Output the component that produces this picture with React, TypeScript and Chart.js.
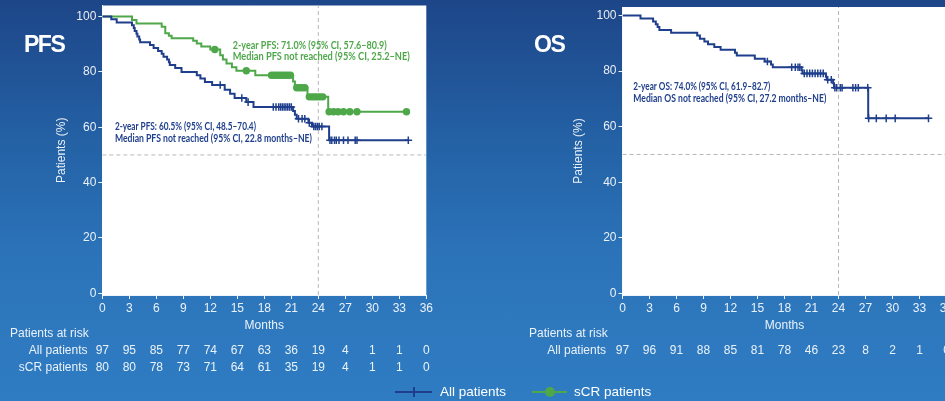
import React, { useEffect, useRef } from "react";
import { Chart, registerables } from "chart.js";

Chart.register(...registerables);

// ---------- data ----------
const monthTicks = [0, 3, 6, 9, 12, 15, 18, 21, 24, 27, 30, 33, 36];
const pctTicks = [0, 20, 40, 60, 80, 100];

// PFS – all patients (event times in months, survival % after each step)
const pfsAllTimes = [0, 1.0, 1.6, 3.3, 3.5, 3.6, 3.8, 3.9, 4.1, 4.2, 5.3, 5.7, 6.2, 6.6, 6.8, 7.2, 7.4, 7.5, 8.1, 8.8, 10.5, 10.9, 11.4, 12.2, 13.6, 14.2, 14.7, 16.0, 16.8, 21.2, 21.4, 21.6, 22.9, 23.3, 25.2, 34.0];
const pfsAllSurv = [100, 99.0, 97.9, 96.9, 95.9, 94.8, 93.8, 92.8, 91.7, 90.7, 89.7, 88.6, 87.6, 86.6, 85.5, 84.5, 83.5, 82.5, 81.4, 80.0, 78.8, 77.6, 76.4, 75.3, 73.6, 72.1, 70.6, 69.1, 67.3, 65.9, 64.5, 63.1, 61.6, 60.3, 55.3, 55.3];
const pfsAllCensored = [13.1, 15.5, 16.2, 19.0, 19.3, 19.6, 19.8, 20.0, 20.2, 20.4, 20.6, 20.8, 21.0, 21.8, 22.2, 22.5, 23.0, 23.5, 23.7, 23.9, 24.1, 24.4, 25.3, 25.5, 25.8, 26.0, 26.3, 26.8, 27.3, 28.1, 28.3, 34.0];

// PFS – sCR patients
const pfsScrTimes = [0, 3.3, 3.8, 6.6, 7.0, 7.4, 7.7, 10.1, 10.5, 11.0, 12.0, 13.1, 13.4, 13.8, 14.4, 14.9, 17.0, 21.2, 21.4, 22.8, 25.1, 33.8];
const pfsScrSurv = [100, 98.8, 97.5, 96.3, 94.0, 93.1, 92.2, 91.3, 90.3, 89.2, 88.1, 86.0, 84.5, 83.0, 81.7, 80.4, 78.8, 76.5, 74.3, 71.0, 65.6, 65.6];
const pfsScrCensored = [12.5, 16.0, 18.8, 19.1, 19.4, 19.7, 20.0, 20.3, 20.6, 20.9, 21.6, 21.9, 22.2, 22.5, 23.0, 23.3, 23.6, 23.9, 24.2, 24.5, 25.2, 25.7, 26.2, 26.8, 27.5, 28.3, 33.8];

// OS – all patients
const osAllTimes = [0, 2.0, 3.4, 3.7, 3.9, 4.1, 5.4, 8.3, 8.6, 9.1, 9.5, 10.2, 10.9, 12.5, 12.7, 14.7, 15.8, 16.5, 16.7, 19.9, 20.0, 22.6, 22.7, 23.4, 23.5, 27.3, 34.0];
const osAllSurv = [100, 99.0, 97.9, 96.9, 95.9, 94.8, 93.8, 92.8, 91.7, 90.7, 89.7, 88.7, 87.7, 86.6, 85.6, 84.5, 83.5, 82.4, 81.4, 80.3, 79.2, 78.0, 76.9, 75.6, 74.0, 63.0, 63.0];
const osAllCensored = [16.1, 18.8, 19.2, 19.5, 19.7, 20.2, 20.5, 20.8, 21.1, 21.4, 21.7, 22.0, 22.3, 22.8, 23.2, 23.6, 23.8, 24.2, 24.4, 25.6, 25.9, 26.2, 27.25, 27.35, 28.2, 29.3, 30.3, 34.0];

// Patients at risk
const riskPfsAll = [97, 95, 85, 77, 74, 67, 63, 36, 19, 4, 1, 1, 0];
const riskPfsScr = [80, 80, 78, 73, 71, 64, 61, 35, 19, 4, 1, 1, 0];
const riskOsAll = [97, 96, 91, 88, 85, 81, 78, 46, 23, 8, 2, 1, 0];

// Reference lines
const refSurv = 50;
const refMonth = 24;

// ---------- styles ----------
const FONT = 'Arial, "Liberation Sans", sans-serif';
const NOTE_FONT = 'Lato, "Open Sans", sans-serif';
const NAVY = "#1f3f8c";
const GREEN = "#4ea84a";
const TXT = "rgba(255,255,255,0.9)";
const AXIS = "rgba(255,255,255,0.92)";
const DASH = "#b8b8b8";

function stepAt(times: number[], surv: number[], t: number) {
  let v = surv[0];
  for (let i = 0; i < times.length; i++) if (times[i] <= t) v = surv[i];
  return v;
}
const curve = (times: number[], surv: number[]) => times.map((t, i) => ({ x: t, y: surv[i] }));
const marks = (times: number[], surv: number[], cens: number[]) => cens.map((t) => ({ x: t, y: stepAt(times, surv, t) }));

interface Note { text: string; t: number; s: number; color: string; maxW: number }
interface Row { label: string; values: number[]; y: number }
interface PanelSpec {
  yMax: number;
  padding: { left: number; right: number; top: number; bottom: number };
  yWidth: number;
  xHeight: number;
  datasets: any[];
  rows: Row[];
  notes: Note[];
  riskTitleX: number;
  rowLabelRight: number;
  yTitleX: number;
}

function buildConfig(p: PanelSpec): any {
  const panelPlugin = {
    id: "panel",
    beforeDraw(chart: any) {
      const { ctx, chartArea: a } = chart;
      ctx.save();
      ctx.fillStyle = "#ffffff";
      ctx.fillRect(a.left, a.top, a.right - a.left, a.bottom - a.top);
      ctx.restore();
    },
    afterDraw(chart: any) {
      const { ctx, chartArea: a } = chart;
      const xs = chart.scales.x;
      const ys = chart.scales.y;
      ctx.save();
      // notes
      ctx.textBaseline = "middle";
      ctx.textAlign = "left";
      ctx.font = `bold 10.5px ${NOTE_FONT}`;
      p.notes.forEach((n) => {
        ctx.fillStyle = n.color;
        ctx.fillText(n.text, xs.getPixelForValue(n.t), ys.getPixelForValue(n.s), n.maxW);
      });
      // y title
      ctx.fillStyle = TXT;
      ctx.font = `12px ${FONT}`;
      ctx.save();
      ctx.translate(p.yTitleX, (a.top + a.bottom) / 2);
      ctx.rotate(-Math.PI / 2);
      ctx.textAlign = "center";
      ctx.fillText("Patients (%)", 0, 0);
      ctx.restore();
      // x title
      ctx.textAlign = "center";
      ctx.fillText("Months", (a.left + a.right) / 2, 326);
      // risk table
      ctx.textAlign = "left";
      ctx.fillText("Patients at risk", p.riskTitleX, 334);
      p.rows.forEach((r) => {
        ctx.textAlign = "right";
        ctx.fillText(r.label, p.rowLabelRight, r.y);
        ctx.textAlign = "center";
        r.values.forEach((v, i) => {
          ctx.fillText(String(v), xs.getPixelForValue(monthTicks[i]), r.y);
        });
      });
      ctx.restore();
    },
  };

  return {
    type: "line",
    data: { datasets: p.datasets },
    options: {
      animation: false,
      responsive: false,
      events: [],
      layout: { padding: p.padding },
      plugins: { legend: { display: false }, tooltip: { enabled: false } },
      scales: {
        x: {
          type: "linear",
          min: 0,
          max: 36,
          afterBuildTicks: (s: any) => { s.ticks = monthTicks.map((v) => ({ value: v })); },
          afterFit: (s: any) => { s.height = p.xHeight; s.paddingLeft = 0; s.paddingRight = 0; },
          ticks: { color: TXT, font: { size: 12, family: FONT }, padding: 2, maxRotation: 0, autoSkip: false },
          grid: { drawOnChartArea: false, color: AXIS, tickLength: 4, lineWidth: 1 },
          border: { color: AXIS, width: 1 },
        },
        y: {
          type: "linear",
          min: -0.6,
          max: p.yMax,
          afterBuildTicks: (s: any) => { s.ticks = pctTicks.map((v) => ({ value: v })); },
          afterFit: (s: any) => { s.width = p.yWidth; s.paddingTop = 0; s.paddingBottom = 0; },
          ticks: { color: TXT, font: { size: 12, family: FONT }, padding: 2 },
          grid: { drawOnChartArea: false, color: AXIS, tickLength: 4, lineWidth: 1 },
          border: { color: AXIS, width: 1 },
        },
      },
    },
    plugins: [panelPlugin],
  };
}

function refDatasets(yMax: number) {
  return [
    { data: [{ x: 0, y: refSurv }, { x: 36, y: refSurv }], borderColor: DASH, borderWidth: 1, borderDash: [4, 3], pointRadius: 0, order: 20 },
    { data: [{ x: refMonth, y: -0.6 }, { x: refMonth, y: yMax }], borderColor: DASH, borderWidth: 1, borderDash: [4, 3], pointRadius: 0, order: 20 },
  ];
}

function kmDataset(times: number[], surv: number[], color: string, order: number) {
  return { data: curve(times, surv), stepped: "before", borderColor: color, borderWidth: 2, pointRadius: 0, fill: false, order };
}

export default function App() {
  const leftRef = useRef<HTMLCanvasElement>(null);
  const rightRef = useRef<HTMLCanvasElement>(null);

  useEffect(() => {
    document.body.style.margin = "0";
    const leftYMax = 104;
    const rightYMax = 103.1;
    const left: PanelSpec = {
      yMax: leftYMax,
      padding: { left: 60, right: 470 - 426.3, top: 5, bottom: 401 - 295 - 20 },
      yWidth: 42.3,
      xHeight: 20,
      datasets: [
        kmDataset(pfsScrTimes, pfsScrSurv, GREEN, 6),
        { data: marks(pfsScrTimes, pfsScrSurv, pfsScrCensored), showLine: false, pointStyle: "circle", pointRadius: 3.7, pointBackgroundColor: GREEN, pointBorderColor: GREEN, pointBorderWidth: 0, order: 4 },
        kmDataset(pfsAllTimes, pfsAllSurv, NAVY, 3),
        { data: marks(pfsAllTimes, pfsAllSurv, pfsAllCensored), showLine: false, pointStyle: "cross", pointRadius: 3.8, pointBorderColor: NAVY, pointBorderWidth: 1.5, order: 1 },
        ...refDatasets(leftYMax),
      ],
      rows: [
        { label: "All patients", values: riskPfsAll, y: 351 },
        { label: "sCR patients", values: riskPfsScr, y: 368 },
      ],
      notes: [
        { text: "2-year PFS: 71.0% (95% CI, 57.6–80.9)", t: 14.5, s: 89.6, color: GREEN, maxW: 154 },
        { text: "Median PFS not reached (95% CI, 25.2–NE)", t: 14.5, s: 85.4, color: GREEN, maxW: 177 },
        { text: "2-year PFS: 60.5% (95% CI, 48.5–70.4)", t: 1.4, s: 60.1, color: NAVY, maxW: 141 },
        { text: "Median PFS not reached (95% CI, 22.8 months–NE)", t: 1.4, s: 55.8, color: NAVY, maxW: 197 },
      ],
      riskTitleX: 10,
      rowLabelRight: 87.5,
      yTitleX: 62,
    };
    const right: PanelSpec = {
      yMax: rightYMax,
      padding: { left: 110, right: 530 - 476.5, top: 7, bottom: 401 - 295 - 20 },
      yWidth: 42.5,
      xHeight: 20,
      datasets: [
        kmDataset(osAllTimes, osAllSurv, NAVY, 3),
        { data: marks(osAllTimes, osAllSurv, osAllCensored), showLine: false, pointStyle: "cross", pointRadius: 3.8, pointBorderColor: NAVY, pointBorderWidth: 1.5, order: 1 },
        ...refDatasets(rightYMax),
      ],
      rows: [{ label: "All patients", values: riskOsAll, y: 351 }],
      notes: [
        { text: "2-year OS: 74.0% (95% CI, 61.9–82.7)", t: 1.2, s: 74.4, color: NAVY, maxW: 137 },
        { text: "Median OS not reached (95% CI, 27.2 months–NE)", t: 1.2, s: 70.0, color: NAVY, maxW: 193 },
      ],
      riskTitleX: 529 - 470,
      rowLabelRight: 136,
      yTitleX: 109,
    };
    const c1 = new Chart(leftRef.current as HTMLCanvasElement, buildConfig(left));
    const c2 = new Chart(rightRef.current as HTMLCanvasElement, buildConfig(right));
    return () => { c1.destroy(); c2.destroy(); };
  }, []);

  const titleStyle: React.CSSProperties = {
    position: "absolute", top: 31, fontFamily: FONT, fontWeight: "bold", fontSize: 23,
    letterSpacing: "-1.5px", lineHeight: "26px", color: "#ffffff", zIndex: 2,
  };
  const legendText: React.CSSProperties = {
    position: "absolute", top: 384, fontFamily: FONT, fontSize: 13.5, lineHeight: "16px", color: "#ffffff", zIndex: 2,
  };

  return (
    <div style={{ position: "fixed", left: 0, top: 0, width: 945, height: 401, overflow: "hidden",
      background: "linear-gradient(180deg, #1d4688 0%, #2461a5 35%, #2c74ba 65%, #2f7cc2 100%)" }}>
      <div style={{ position: "absolute", left: 0, top: 0, width: 470, height: 401 }}>
        <canvas ref={leftRef} width={470} height={401} style={{ width: 470, height: 401, display: "block" }} />
      </div>
      <div style={{ position: "absolute", left: 470, top: 0, width: 530, height: 401 }}>
        <canvas ref={rightRef} width={530} height={401} style={{ width: 530, height: 401, display: "block" }} />
      </div>
      <div style={{ ...titleStyle, left: 24 }}>PFS</div>
      <div style={{ ...titleStyle, left: 534 }}>OS</div>
      {/* legend */}
      <div style={{ position: "absolute", left: 395, top: 391, width: 37, height: 2, background: NAVY, zIndex: 2 }} />
      <div style={{ position: "absolute", left: 412.5, top: 387, width: 2, height: 10, background: NAVY, zIndex: 2 }} />
      <div style={{ ...legendText, left: 440 }}>All patients</div>
      <div style={{ position: "absolute", left: 532, top: 391, width: 35, height: 2, background: GREEN, zIndex: 2 }} />
      <div style={{ position: "absolute", left: 544.5, top: 387, width: 10, height: 10, borderRadius: 5, background: GREEN, zIndex: 2 }} />
      <div style={{ ...legendText, left: 574 }}>sCR patients</div>
    </div>
  );
}
